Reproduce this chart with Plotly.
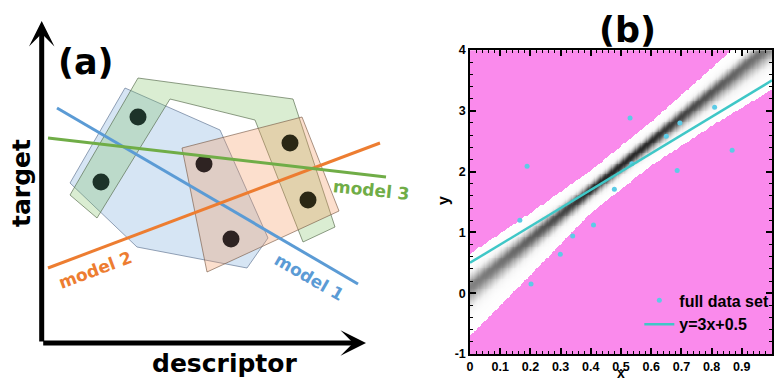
import numpy as np
import plotly.graph_objects as go

# ---------------- panel (b) data ----------------
pts_x = [0.189, 0.165, 0.202, 0.299, 0.340, 0.409, 0.478, 0.530, 0.536, 0.650, 0.686, 0.695, 0.810, 0.868]
pts_y = [2.09, 1.20, 0.15, 0.64, 0.94, 1.12, 1.71, 2.88, 2.13, 2.58, 2.02, 2.80, 3.06, 2.35]
fit_x = [0.0, 1.0]
fit_y = [0.5, 3.5]          # y = 3x + 0.5

# density band (center, upper / lower half widths)
band_x = [0.0, 0.2, 0.4, 0.6, 0.8, 1.0]
band_c = [0.10, 0.90, 1.70, 2.50, 3.30, 4.10]
band_up = [0.55, 0.42, 0.32, 0.32, 0.40, 0.50]
band_lo = [0.80, 0.60, 0.38, 0.40, 0.55, 0.75]

xticks = [0, 0.1, 0.2, 0.3, 0.4, 0.5, 0.6, 0.7, 0.8, 0.9, 1.0]
xticktext = ["0", "0.1", "0.2", "0.3", "0.4", "0.5", "0.6", "0.7", "0.8", "0.9", "1"]
yticks = [-1, 0, 1, 2, 3, 4]
yticktext = ["-1", "0", "1", "2", "3", "4"]

# ---------------- panel (a) schematic data (descriptor / target units) ----------------
blue_px = [125, 220, 268, 247, 137, 70]
blue_py = [294, 252, 144, 114, 135, 199]
green_px = [138, 293, 335, 303, 255, 170, 97, 70]
green_py = [304, 283, 155, 140, 262, 283, 164, 187]
orange_px = [182, 302, 339, 207]
orange_py = [234, 265, 171, 110]
dots_x = [138, 101, 204, 231, 290, 308]
dots_y = [265, 200, 218, 143, 239, 182]
dots_col = ["#1d3329", "#1d3329", "#2e2322", "#2e2322", "#2b2815", "#2b2815"]
m1_x, m1_y = [57, 358], [274, 98]
m2_x, m2_y = [48, 380], [114, 239]
m3_x, m3_y = [48, 386], [244, 205]
origin = (41.7, 39)
y_tip = (41.7, 361)
x_tip = (366, 39)

BLUE = "#5b9bd5"
ORANGE = "#ed7d31"
GREEN = "#70ad47"
MAG = "rgb(250,138,236)"
CYAN_L = "#3fc7c7"
CYAN_P = "#5ccbe6"

# ---------------- build density grid ----------------
gx = np.arange(0.002, 1.0, 0.004)
gy = np.arange(-1.0 + 0.0075, 4.0, 0.015)
c = np.interp(gx, band_x, band_c)
wu = np.interp(gx, band_x, band_up)
wl = np.interp(gx, band_x, band_lo)
amp = ((min(np.array(band_up) + np.array(band_lo))) / (wu + wl)) ** 0.7
D = gy[:, None] - c[None, :]
W = np.where(D >= 0, wu[None, :], wl[None, :])
g = np.exp(-0.5 * (D / (W / 4.2)) ** 2) * amp[None, :]
Z = np.where(np.abs(D) <= W, 0.04 + 0.96 * g, 0.0)

fig = go.Figure()

fig.add_trace(go.Heatmap(
    x=gx, y=gy, z=Z, zmin=0, zmax=1, showscale=False, hoverinfo="skip",
    colorscale=[[0, MAG], [0.015, MAG], [0.03, "#ffffff"], [0.15, "#f2f2f2"],
                [0.5, "#a8a8a8"], [1, "#262626"]],
    xaxis="x", yaxis="y", showlegend=False))

fig.add_trace(go.Scatter(
    x=pts_x, y=pts_y, mode="markers", name="full data set",
    marker=dict(color=CYAN_P, size=5), xaxis="x", yaxis="y"))
fig.add_trace(go.Scatter(
    x=fit_x, y=fit_y, mode="lines", name="y=3x+0.5",
    line=dict(color=CYAN_L, width=2.5), xaxis="x", yaxis="y"))

# ---- panel (a) ----
def poly(px, py, fill, line):
    fig.add_trace(go.Scatter(
        x=px + [px[0]], y=py + [py[0]], mode="lines", fill="toself",
        fillcolor=fill, line=dict(color=line, width=0.8),
        xaxis="x2", yaxis="y2", showlegend=False, hoverinfo="skip"))

poly(blue_px, blue_py, "rgba(120,170,220,0.30)", "rgba(90,110,140,0.8)")
poly(green_px, green_py, "rgba(120,190,90,0.27)", "rgba(80,100,70,0.8)")
poly(orange_px, orange_py, "rgba(245,150,90,0.30)", "rgba(120,90,70,0.8)")

fig.add_trace(go.Scatter(
    x=dots_x, y=dots_y, mode="markers",
    marker=dict(color=dots_col, size=17, line=dict(width=0)),
    xaxis="x2", yaxis="y2", showlegend=False, hoverinfo="skip"))

for lx, ly, col in [(m1_x, m1_y, BLUE), (m2_x, m2_y, ORANGE), (m3_x, m3_y, GREEN)]:
    fig.add_trace(go.Scatter(
        x=lx, y=ly, mode="lines", line=dict(color=col, width=3),
        xaxis="x2", yaxis="y2", showlegend=False, hoverinfo="skip"))

DJ = "DejaVu Sans"
LS = "Liberation Sans"
ann = []
for tip in (y_tip, x_tip):
    ann.append(dict(x=tip[0], y=tip[1], ax=origin[0], ay=origin[1],
                    xref="x2", yref="y2", axref="x2", ayref="y2",
                    text="", showarrow=True, arrowhead=3, arrowsize=0.85,
                    arrowwidth=5, arrowcolor="black", standoff=0))
C = dict(showarrow=False, xanchor="center", yanchor="middle")
ann += [
    dict(x=86, y=382 - 62, text="(a)", xref="x2", yref="y2",
         font=dict(family=DJ, size=35, color="black", weight="bold"), **C),
    dict(x=21, y=382 - 183, text="target", textangle=-90, xref="x2", yref="y2",
         font=dict(family=DJ, size=25, color="black", weight="bold"), **C),
    dict(x=224, y=382 - 363, text="descriptor", xref="x2", yref="y2",
         font=dict(family=DJ, size=25, color="black", weight="bold"), **C),
    dict(x=371, y=382 - 190, text="model 3", textangle=6, xref="x2", yref="y2",
         font=dict(family=DJ, size=17, color=GREEN, weight="bold"), **C),
    dict(x=95, y=382 - 270, text="model 2", textangle=-20.6, xref="x2", yref="y2",
         font=dict(family=DJ, size=17, color=ORANGE, weight="bold"), **C),
    dict(x=309, y=382 - 277, text="model 1", textangle=30, xref="x2", yref="y2",
         font=dict(family=DJ, size=17, color=BLUE, weight="bold"), **C),
    dict(x=627 / 774, y=1 - 30 / 382, text="(b)", xref="paper", yref="paper",
         font=dict(family=DJ, size=35, color="black", weight="bold"), **C),
    dict(x=621 / 774, y=0, text="x", xref="paper", yref="paper",
         showarrow=False, xanchor="center", yanchor="bottom", borderpad=0,
         font=dict(family=LS, size=14, color="black", weight="bold")),
    dict(x=443 / 774, y=1 - 201 / 382, text="y", textangle=-90, xref="paper", yref="paper",
         font=dict(family=LS, size=16, color="black", weight="bold"), **C),
]

axis_common = dict(
    ticks="inside", ticklen=6, tickwidth=1.5, tickcolor="black",
    showline=True, linewidth=1.5, linecolor="black", mirror="allticks",
    showgrid=False, zeroline=False, automargin=False,
    tickfont=dict(family=LS, size=12.5, color="black", weight="bold"),
)

fig.update_layout(
    width=774, height=382, margin=dict(l=0, r=0, t=0, b=0, autoexpand=False),
    paper_bgcolor="white", plot_bgcolor="white",
    xaxis=dict(domain=[470 / 774, 772 / 774], range=[0, 1], tickmode="array",
               tickvals=xticks, ticktext=xticktext,
               minor=dict(tickmode="linear", tick0=0, dtick=0.02, ticks="inside",
                          ticklen=3, tickwidth=1, tickcolor="black"),
               **axis_common),
    yaxis=dict(domain=[(382 - 354) / 382, (382 - 50) / 382], range=[-1, 4], tickmode="array",
               tickvals=yticks, ticktext=yticktext,
               minor=dict(tickmode="linear", tick0=0, dtick=0.2, ticks="inside",
                          ticklen=3, tickwidth=1, tickcolor="black"),
               **axis_common),
    xaxis2=dict(domain=[0, 0.5], range=[0, 387], visible=False, fixedrange=True),
    yaxis2=dict(domain=[0, 1], range=[0, 382], visible=False, fixedrange=True),
    legend=dict(x=0.826, y=0.258, xanchor="left", yanchor="top",
                bgcolor="rgba(0,0,0,0)", borderwidth=0,
                font=dict(family=LS, size=16, color="black", weight="bold"),
                tracegroupgap=0, itemwidth=30),
    annotations=ann,
)

fig.write_html("out.html")
